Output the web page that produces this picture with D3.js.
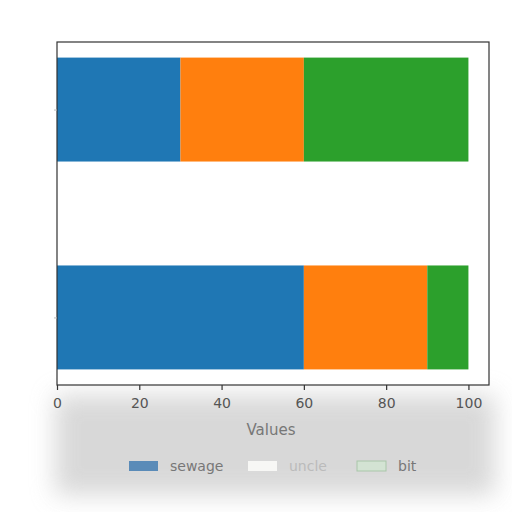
<!DOCTYPE html>
<html><head><meta charset="utf-8">
<script src="https://cdn.jsdelivr.net/npm/d3@7"></script>
<style>body{margin:0;background:#fff}svg{display:block}</style>
</head><body>
<svg id="c" width="512" height="512"></svg>
<script>
const categories = ["A", "B"]; // bottom, top
const seriesNames = ["sewage", "uncle", "bit"];
const sewage = [60, 30];
const uncle = [30, 30];
const bit = [10, 40];
const xTicks = [0, 20, 40, 60, 80, 100];
const barColors = ["#1f77b4", "#ff7f0e", "#2ca02c"];
const legendColors = ["#5a8bb8", "#f7f7f5", "#d3e3d3"];

const svg = d3.select("#c");
const defs = svg.append("defs");
defs.append("filter").attr("id","blur").attr("x","-30%").attr("y","-30%").attr("width","160%").attr("height","160%")
  .append("feGaussianBlur").attr("stdDeviation", 12);

// soft gray backdrop behind the lower area
svg.append("rect").attr("x", 55).attr("y", 395).attr("width", 440).attr("height", 100)
  .attr("fill", "#d2d2d2").attr("opacity", 0.85).attr("filter", "url(#blur)");

const L = 57, R = 489, T = 42, B = 385;
const x = d3.scaleLinear().domain([0, 105]).range([L, R]);
const y = d3.scaleLinear().domain([-0.325, 1.325]).range([B, T]);
const barH = 0.5;

svg.append("rect").attr("x", L).attr("y", T).attr("width", R - L).attr("height", B - T).attr("fill", "#fff");

const data = categories.map((c, i) => ({cat: i, sewage: sewage[i], uncle: uncle[i], bit: bit[i]}));
const stack = d3.stack().keys(seriesNames)(data);
stack.forEach((s, si) => {
  svg.append("g").selectAll("rect").data(s).join("rect")
    .attr("x", d => x(d[0]))
    .attr("width", d => x(d[1]) - x(d[0]))
    .attr("y", d => y(d.data.cat + barH / 2))
    .attr("height", d => y(d.data.cat - barH / 2) - y(d.data.cat + barH / 2))
    .attr("fill", barColors[si]);
});

svg.append("rect").attr("x", L).attr("y", T).attr("width", R - L).attr("height", B - T)
  .attr("fill", "none").attr("stroke", "#333").attr("stroke-width", 1.2);

const ax = svg.append("g").attr("transform", `translate(0,${B})`)
  .call(d3.axisBottom(x).tickValues(xTicks).tickSize(5).tickPadding(8).tickFormat(d3.format("d")));
ax.select(".domain").remove();
ax.selectAll(".tick line").attr("stroke", "#333").attr("stroke-width", 1.2);
ax.selectAll(".tick text").attr("fill", "#555").attr("font-size", 14).attr("font-family", "DejaVu Sans");

// y ticks (no labels)
const ay = svg.append("g").attr("transform", `translate(${L},0)`)
  .call(d3.axisLeft(y).tickValues([0, 1]).tickSize(3).tickFormat(""));
ay.select(".domain").remove();
ay.selectAll(".tick line").attr("stroke", "#bbb");

svg.append("text").attr("x", (L + R) / 2 - 2).attr("y", 435).attr("text-anchor", "middle")
  .attr("font-family", "DejaVu Sans").attr("font-size", 15).attr("fill", "#777").text("Values");

const legendX = [129, 248, 357];
const lg = svg.append("g");
seriesNames.forEach((n, i) => {
  lg.append("rect").attr("x", legendX[i]).attr("y", 461).attr("width", 29).attr("height", 10)
    .attr("fill", legendColors[i]).attr("stroke", i === 2 ? "#a9c6a9" : "none");
  lg.append("text").attr("x", legendX[i] + 41).attr("y", 471)
    .attr("font-family", "DejaVu Sans").attr("font-size", 14)
    .attr("fill", i === 1 ? "#bbb" : "#777").text(n);
});
</script>
</body></html>
